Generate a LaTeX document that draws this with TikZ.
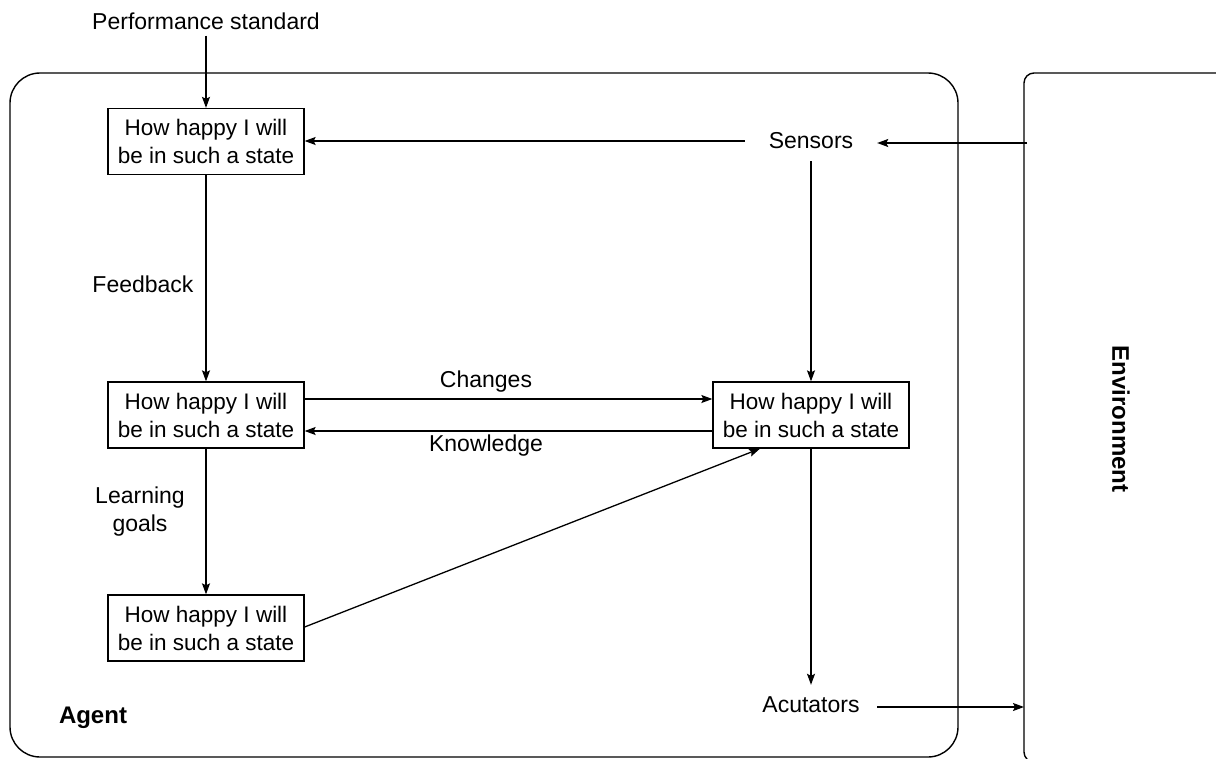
\documentclass[tikz,border=0pt]{standalone}
\usepackage{fontspec}
\setmainfont{Liberation Sans}
\usetikzlibrary{arrows.meta}
\begin{document}
\begin{tikzpicture}[x=1pt,y=-1pt,
  every node/.style={font=\fontsize{23}{28}\selectfont},
  statebox/.style={draw,line width=1.3pt,minimum width=196pt,minimum height=66pt,inner sep=0pt,align=center,font=\fontsize{22.5}{28}\selectfont},
  txt/.style={inner sep=0pt,align=center},
  port/.style={inner sep=0pt,minimum width=132pt,minimum height=40pt},
  boldlabel/.style={inner sep=0pt,font=\fontsize{24}{28}\selectfont\bfseries},
  conn/.style={line width=1.3pt,-{Stealth[length=11pt,width=8pt,inset=2pt]}},
  frame/.style={line width=1.4pt}]
\useasboundingbox (0,0) rectangle (1216,758);
\begin{scope}
\clip (0,0) rectangle (1216,758);
\draw[frame,rounded corners=30pt] (10,73) rectangle (958,757);
\draw[frame,rounded corners=10pt] (1024,73) rectangle (1240,762);
\end{scope}
\coordinate (envIn) at (1024,707);
\coordinate (envOut) at (1027,143);
\node[txt] (perf) at (206,21) {Performance standard};
\node[statebox] (b1) at (206,141.5) {How happy I will\\be in such a state};
\node[statebox] (b2) at (206,415) {How happy I will\\be in such a state};
\node[statebox] (b3) at (206,628) {How happy I will\\be in such a state};
\node[statebox] (b4) at (811,415) {How happy I will\\be in such a state};
\node[port] (sens) at (811,141) {Sensors};
\node[port] (act) at (811,705) {Acutators};
\node[txt] (fb) at (143,284) {Feedback};
\node[txt] (lg) at (140,512) {Learning\\goals};
\node[txt] (ch) at (486,382) {Changes};
\node[txt] (kn) at (486,446) {Knowledge};
\node[boldlabel] (agent) at (93,718) {Agent};
\node[boldlabel,rotate=-90] (env) at (1121,419) {Environment};
\draw[conn] ([yshift=-6pt]perf.south) -- (b1.north);
\draw[conn] (b1.south) -- (b2.north);
\draw[conn] (b2.south) -- (b3.north);
\draw[conn] ([yshift=16pt]b2.east) -- ([yshift=16pt]b4.west);
\draw[conn] ([yshift=-16pt]b4.west) -- ([yshift=-16pt]b2.east);
\draw[conn] ([yshift=1pt]b3.east) -- ([xshift=-51pt]b4.south);
\draw[conn] (sens.west) -- (sens.west -| b1.east);
\draw[conn] (sens.south) -- (b4.north);
\draw[conn] (b4.south) -- (act.north);
\draw[conn] (envOut) -- (envOut -| sens.east);
\draw[conn] (act.east |- envIn) -- (envIn);
\end{tikzpicture}
\end{document}
